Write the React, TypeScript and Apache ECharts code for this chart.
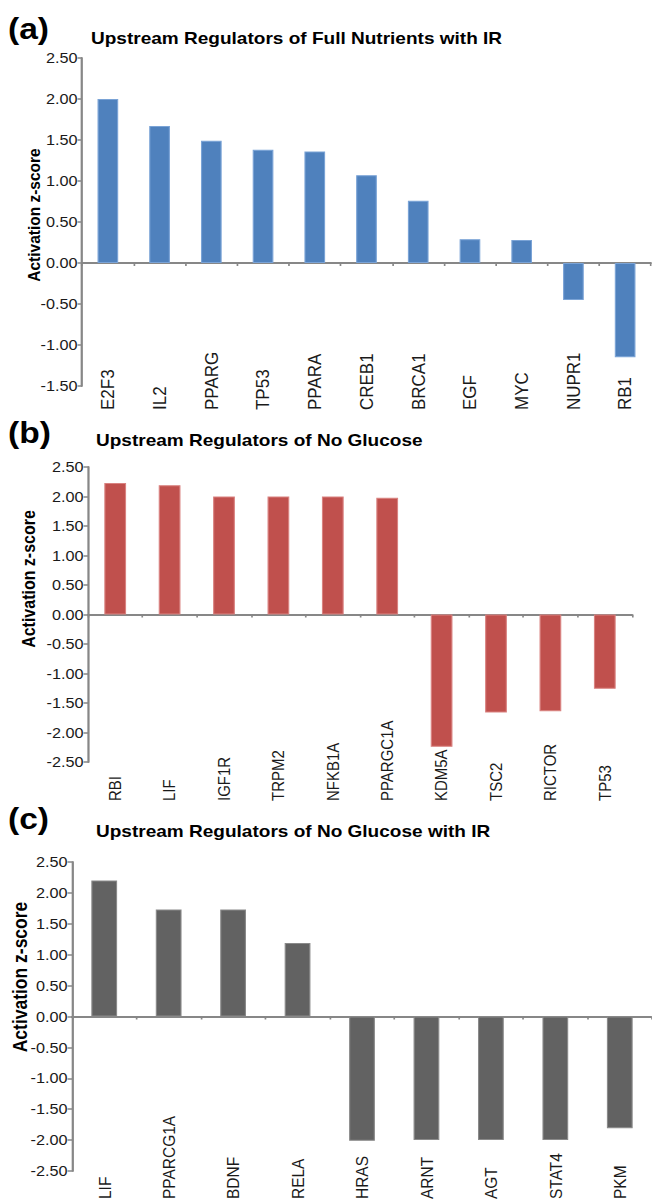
import React, { useEffect, useRef } from "react";
import * as echarts from "echarts";

// Panel (a): Full Nutrients with IR
const fullNutrientsGenes = ["E2F3", "IL2", "PPARG", "TP53", "PPARA", "CREB1", "BRCA1", "EGF", "MYC", "NUPR1", "RB1"];
const fullNutrientsZ = [2.0, 1.67, 1.49, 1.38, 1.36, 1.07, 0.76, 0.29, 0.28, -0.45, -1.15];

// Panel (b): No Glucose
const noGlucoseGenes = ["RBI", "LIF", "IGF1R", "TRPM2", "NFKB1A", "PPARGC1A", "KDM5A", "TSC2", "RICTOR", "TP53"];
const noGlucoseZ = [2.23, 2.19, 2.0, 2.0, 2.0, 1.98, -2.24, -1.66, -1.64, -1.26];

// Panel (c): No Glucose with IR
const noGlucoseIRGenes = ["LIF", "PPARCG1A", "BDNF", "RELA", "HRAS", "ARNT", "AGT", "STAT4", "PKM"];
const noGlucoseIRZ = [2.2, 1.73, 1.73, 1.19, -2.01, -2.0, -2.0, -2.0, -1.81];

const panelTitles = [
  "Upstream Regulators of Full Nutrients with IR",
  "Upstream Regulators of No Glucose",
  "Upstream Regulators of No Glucose with IR",
];
const panelLetters = ["(a)", "(b)", "(c)"];
const yAxisName = "Activation z-score";

const FONT = "'Liberation Sans', Arial, Helvetica, sans-serif";
const AXIS_GREY = "#878787";
const TEXT = "#1a1a1a";

// The figure is drawn slightly wide: everything is laid out in page pixels,
// then the chart canvas is stretched horizontally by SX.
const PAGE_W = 652;
const PAGE_H = 1201;
const SX = 1.12;
const px = (x: number) => x / SX;

type Layout = {
  left: number;
  right: number;
  top: number;
  bottom: number;
  yMin: number;
  yMax: number;
  labelBase: number;
  labelSize: number;
  color: string;
  border: string;
  titleX: number;
  titleY: number;
  letterY: number;
  nameX: number;
  nameY: number;
  nameSize: number;
};

const layouts: Layout[] = [
  {
    left: 82, right: 651, top: 58, bottom: 386, yMin: -1.5, yMax: 2.5,
    labelBase: 410, labelSize: 17, color: "#4F81BD", border: "#7aa3d6",
    titleX: 91, titleY: 38, letterY: 29, nameX: 34, nameY: 215, nameSize: 15.5,
  },
  {
    left: 88, right: 632, top: 467, bottom: 762, yMin: -2.5, yMax: 2.5,
    labelBase: 801, labelSize: 15, color: "#C0504D", border: "#d98280",
    titleX: 96, titleY: 440, letterY: 433, nameX: 29, nameY: 579, nameSize: 16,
  },
  {
    left: 72, right: 652, top: 862, bottom: 1171, yMin: -2.5, yMax: 2.5,
    labelBase: 1199, labelSize: 15.5, color: "#626262", border: "#8a8a8a",
    titleX: 96, titleY: 831, letterY: 819, nameX: 20, nameY: 977, nameSize: 17.5,
  },
];

const categories = [fullNutrientsGenes, noGlucoseGenes, noGlucoseIRGenes];
const values = [fullNutrientsZ, noGlucoseZ, noGlucoseIRZ];

function buildOption(): echarts.EChartsCoreOption {
  const grid: any[] = [];
  const xAxis: any[] = [];
  const yAxis: any[] = [];
  const series: any[] = [];
  const graphic: any[] = [];

  layouts.forEach((L, i) => {
    const height = L.bottom - L.top;

    grid.push({
      left: px(L.left),
      top: L.top,
      width: px(L.right - L.left),
      height,
      containLabel: false,
      outerBoundsMode: "none",
    });

    xAxis.push({
      type: "category",
      gridIndex: i,
      data: categories[i],
      boundaryGap: true,
      axisLine: { show: true, onZero: true, lineStyle: { color: AXIS_GREY, width: 2 } },
      axisTick: { show: true, length: 3, lineStyle: { color: AXIS_GREY, width: 1.5 } },
      axisLabel: {
        interval: 0,
        rotate: 90,
        align: "left",
        verticalAlign: "middle",
        // labels sit at the foot of the plot and read upwards
        margin: L.labelBase - L.bottom,
        fontFamily: FONT,
        fontSize: L.labelSize,
        color: TEXT,
        hideOverlap: false,
      },
      splitLine: { show: false },
    });

    yAxis.push({
      type: "value",
      gridIndex: i,
      min: L.yMin,
      max: L.yMax,
      interval: 0.5,
      axisLine: { show: true, lineStyle: { color: AXIS_GREY, width: 2 } },
      axisTick: { show: true, length: 4, lineStyle: { color: AXIS_GREY, width: 1.5 } },
      axisLabel: {
        margin: 4,
        fontFamily: FONT,
        fontSize: 14.5,
        color: TEXT,
        formatter: (v: number) => v.toFixed(2),
      },
      splitLine: { show: false },
    });

    series.push({
      type: "bar",
      xAxisIndex: i,
      yAxisIndex: i,
      data: values[i],
      barWidth: "40%",
      itemStyle: { color: L.color, borderColor: L.border, borderWidth: 1 },
    });

    graphic.push(
      {
        type: "text",
        x: px(8),
        y: L.letterY,
        style: {
          text: panelLetters[i],
          font: `bold 30px ${FONT}`,
          fill: "#000",
          align: "left",
          verticalAlign: "middle",
        },
      },
      {
        type: "text",
        x: px(L.titleX),
        y: L.titleY,
        style: {
          text: panelTitles[i],
          font: `bold 17px ${FONT}`,
          fill: "#000",
          align: "left",
          verticalAlign: "middle",
        },
      },
      {
        type: "text",
        x: px(L.nameX),
        y: L.nameY,
        rotation: Math.PI / 2,
        style: {
          text: yAxisName,
          font: `bold ${L.nameSize}px ${FONT}`,
          fill: "#000",
          align: "center",
          verticalAlign: "middle",
        },
      }
    );
  });

  return {
    animation: false,
    backgroundColor: "#ffffff",
    grid,
    xAxis,
    yAxis,
    series,
    graphic,
  };
}

export default function App() {
  const ref = useRef<HTMLDivElement | null>(null);

  useEffect(() => {
    if (!ref.current) return;
    const chart = echarts.init(ref.current, undefined, { renderer: "svg" });
    chart.setOption(buildOption());
    return () => chart.dispose();
  }, []);

  return (
    <div
      style={{
        position: "absolute",
        left: 0,
        top: 0,
        width: PAGE_W,
        height: PAGE_H,
        overflow: "hidden",
        background: "#fff",
      }}
    >
      <div
        ref={ref}
        style={{
          width: PAGE_W / SX,
          height: PAGE_H,
          transform: `scaleX(${SX})`,
          transformOrigin: "0 0",
        }}
      />
    </div>
  );
}
